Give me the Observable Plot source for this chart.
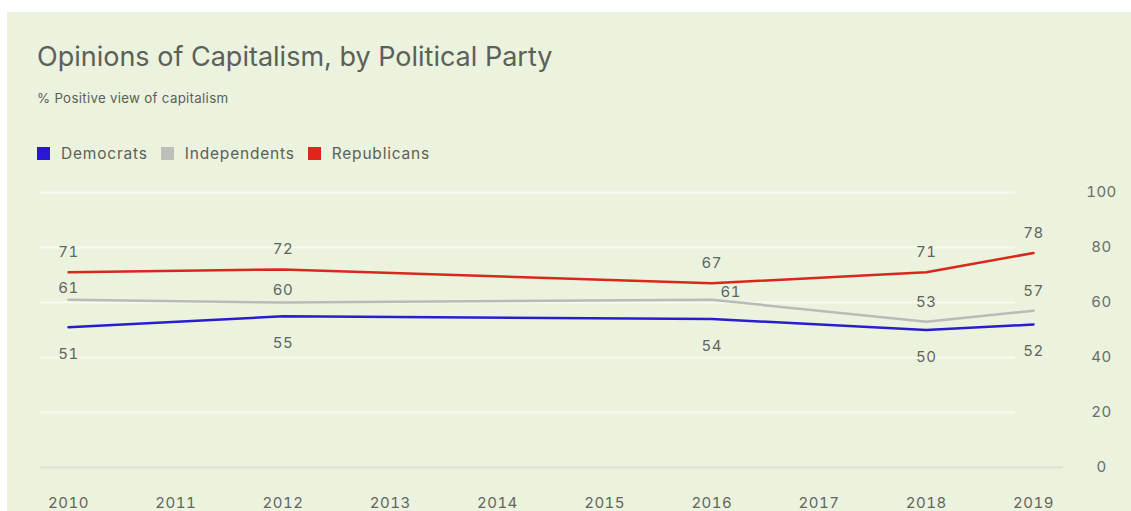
<!DOCTYPE html>
<html>
<head>
<meta charset="utf-8">
<script src="https://cdn.jsdelivr.net/npm/d3@7"></script>
<script src="https://cdn.jsdelivr.net/npm/@observablehq/plot@0.6"></script>
<style>
  html, body { margin: 0; padding: 0; background: #ffffff; width: 1131px; height: 511px; overflow: hidden; }
  body { position: relative; font-family: Inter, "Noto Sans", sans-serif; }
  #panel { position: absolute; left: 7px; top: 12px; width: 1124px; height: 499px; background: #ebf2dd; }
  #title { position: absolute; left: 37px; top: 40px; font-size: 27px; color: #5b6059; letter-spacing: 0px; white-space: nowrap; }
  #subtitle { position: absolute; left: 37px; top: 90px; font-size: 13.3px; color: #5b6059; letter-spacing: 0.3px; white-space: nowrap; }
  #legend { position: absolute; left: 37px; top: 144px; font-size: 15.5px; letter-spacing: 0.8px; color: #5b6059; display: flex; align-items: center; white-space: nowrap; }
  #legend .item { display: flex; align-items: center; margin-right: 13px; }
  #legend .sw { width: 13px; height: 13px; margin-right: 11px; display: inline-block; }
  #chart { position: absolute; left: 0; top: 170px; }
</style>
</head>
<body>
<div id="panel"></div>
<div id="title">Opinions of Capitalism, by Political Party</div>
<div id="subtitle">% Positive view of capitalism</div>
<div id="legend"></div>
<div id="chart"></div>
<script>
const years = [2010, 2012, 2016, 2018, 2019];
const democrats = [51, 55, 54, 50, 52];
const independents = [61, 60, 61, 53, 57];
const republicans = [71, 72, 67, 71, 78];
const seriesNames = ["Democrats", "Independents", "Republicans"];
const seriesColors = ["#2a1dcc", "#b9bbb6", "#d8281c"];
const legendColors = ["#2a17d4", "#bcbeba", "#e0251b"];
const xTicks = [2010, 2011, 2012, 2013, 2014, 2015, 2016, 2017, 2018, 2019];
const yTicks = [0, 20, 40, 60, 80, 100];

const legend = document.getElementById("legend");
seriesNames.forEach((n, i) => {
  const it = document.createElement("span");
  it.className = "item";
  it.innerHTML = `<span class="sw" style="background:${legendColors[i]}"></span>${n}`;
  legend.appendChild(it);
});

const toRows = (vals, name) => years.map((y, i) => ({year: y, value: vals[i], series: name}));
const dem = toRows(democrats, "Democrats");
const ind = toRows(independents, "Independents");
const rep = toRows(republicans, "Republicans");
const all = [...dem, ...ind, ...rep];

const labelFill = "#62655f";
const fs = 15;

const chart = Plot.plot({
  width: 1131,
  height: 341,
  marginLeft: 68,
  marginRight: 98,
  marginTop: 22,
  marginBottom: 44,
  style: { background: "transparent", fontFamily: "Inter, 'Noto Sans', sans-serif", fontSize: "15px", color: "#62655f", letterSpacing: "0.5px" },
  x: { domain: [2010, 2019], ticks: xTicks, tickFormat: d => String(d), label: null },
  y: { domain: [0, 100], ticks: yTicks, label: null },
  color: { domain: seriesNames, range: seriesColors },
  marks: [
    Plot.ruleY(yTicks.filter(d => d > 0), { stroke: "#ffffff", strokeWidth: 2, strokeOpacity: 0.6, insetLeft: -28, insetRight: 18 }),
    Plot.ruleY([0], { stroke: "#dde2d2", strokeWidth: 2, insetLeft: -28, insetRight: -30 }),
    Plot.axisX({ ticks: xTicks, tickFormat: d => String(d), tickSize: 0, tickPadding: 30, fontSize: 15, fill: "#62655f", anchor: "bottom", label: null }),
    Plot.axisY({ ticks: yTicks, anchor: "right", tickSize: 0, tickPadding: 68, textAnchor: "middle", fontSize: 15, fill: "#6a6d66", label: null }),
    Plot.line(all, { x: "year", y: "value", z: "series", stroke: "series", strokeWidth: 2.5 }),
    Plot.text(rep, { x: "year", y: "value", text: "value", dy: -20, fill: labelFill, fontSize: fs }),
    Plot.text(ind.filter(d => d.year < 2016), { x: "year", y: "value", text: "value", dy: -12, fill: labelFill, fontSize: fs }),
    Plot.text(ind.filter(d => d.year === 2016), { x: "year", y: "value", text: "value", dx: 19, dy: -8, fill: labelFill, fontSize: fs }),
    Plot.text(ind.filter(d => d.year > 2016), { x: "year", y: "value", text: "value", dy: -20, fill: labelFill, fontSize: fs }),
    Plot.text(dem, { x: "year", y: "value", text: "value", dy: 27, fill: labelFill, fontSize: fs })
  ]
});
document.getElementById("chart").appendChild(chart);
</script>
</body>
</html>
